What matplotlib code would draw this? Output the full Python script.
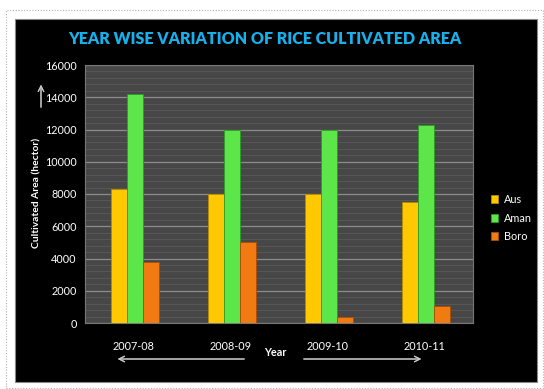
import numpy as np
import matplotlib.pyplot as plt
from matplotlib.patches import Rectangle

years = ['2007-08', '2008-09', '2009-10', '2010-11']
aus = [8300, 8000, 8000, 7500]
aman = [14200, 12000, 12000, 12300]
boro = [3800, 5000, 350, 1080]
series_names = ['Aus', 'Aman', 'Boro']

plt.rcParams['font.family'] = ['Lato', 'DejaVu Sans']

W, H = 544, 389
fig = plt.figure(figsize=(W / 100, H / 100), dpi=100)
fig.patch.set_facecolor('white')

# dotted outer frame and black chart box, kept behind the axes
fig.patches.append(Rectangle((6 / W, 1 - 388 / H), 537 / W, 378 / H, transform=fig.transFigure,
                             fill=False, edgecolor='#b0b0b0', lw=0.8, ls=(0, (1, 1.5)), zorder=-2))
fig.patches.append(Rectangle((15 / W, 1 - 382 / H), 522 / W, 363 / H, transform=fig.transFigure,
                             facecolor='black', edgecolor='#888888', lw=0.8, zorder=-1))

ax = fig.add_axes([85 / W, 1 - 323 / H, 388 / W, 258 / H])
ax.set_facecolor('#474747')

x = np.arange(len(years))
width = 0.16
colors = ['#FFC800', '#5CE64A', '#F27A12']
edges = ['#B38A00', '#2E9A22', '#A84E05']
for i, (vals, name) in enumerate(zip([aus, aman, boro], series_names)):
    ax.bar(x + (i - 1) * 0.165 + 0.015, vals, width, color=colors[i], edgecolor=edges[i],
           linewidth=0.6, label=name, zorder=3)

ax.set_xlim(-0.5, 3.5)
ax.set_ylim(0, 16000)
ax.set_yticks(np.arange(0, 16001, 2000))
ax.set_yticks(np.arange(0, 16001, 400), minor=True)
ax.grid(axis='y', which='major', color='#8c8c8c', lw=0.9, zorder=1)
ax.grid(axis='y', which='minor', color='#5a5a5a', lw=0.6, zorder=0)
ax.set_xticks(x)
ax.set_xticklabels(years)
ax.tick_params(axis='both', which='both', length=0, colors='white', labelsize=7.8)
ax.tick_params(axis='x', pad=13)
ax.tick_params(axis='y', pad=6)
for s in ax.spines.values():
    s.set_color('#777777')
    s.set_linewidth(0.8)

fig.text(265 / W, 1 - 39 / H, 'YEAR WISE VARIATION OF RICE CULTIVATED AREA', color='#16B0EC',
         fontsize=11.5, fontweight='heavy', ha='center', va='center')
fig.text(37 / W, 1 - 193 / H, 'Cultivated Area (hector)', color='white', fontsize=7.4,
         fontweight='bold', rotation=90, ha='center', va='center')
fig.text(275 / W, 1 - 353 / H, 'Year', color='white', fontsize=7.8, fontweight='bold',
         ha='center', va='center')

arrow = dict(arrowstyle='->', color='#c8c8c8', lw=0.8)
fig.add_artist(plt.annotate('', xy=(41 / W, 1 - 82 / H), xytext=(41 / W, 1 - 110 / H),
                            xycoords='figure fraction', arrowprops=arrow))
fig.add_artist(plt.annotate('', xy=(115 / W, 1 - 359 / H), xytext=(247 / W, 1 - 359 / H),
                            xycoords='figure fraction', arrowprops=arrow))
fig.add_artist(plt.annotate('', xy=(424 / W, 1 - 359 / H), xytext=(301 / W, 1 - 359 / H),
                            xycoords='figure fraction', arrowprops=arrow))

leg = fig.legend(loc='center left', bbox_to_anchor=(481 / W, 1 - 218 / H), frameon=False,
                 fontsize=7.8, handlelength=0.7, handleheight=0.7, handletextpad=0.5,
                 labelspacing=0.7, labelcolor='white')

fig.savefig('out.png', dpi=100, facecolor='white')
